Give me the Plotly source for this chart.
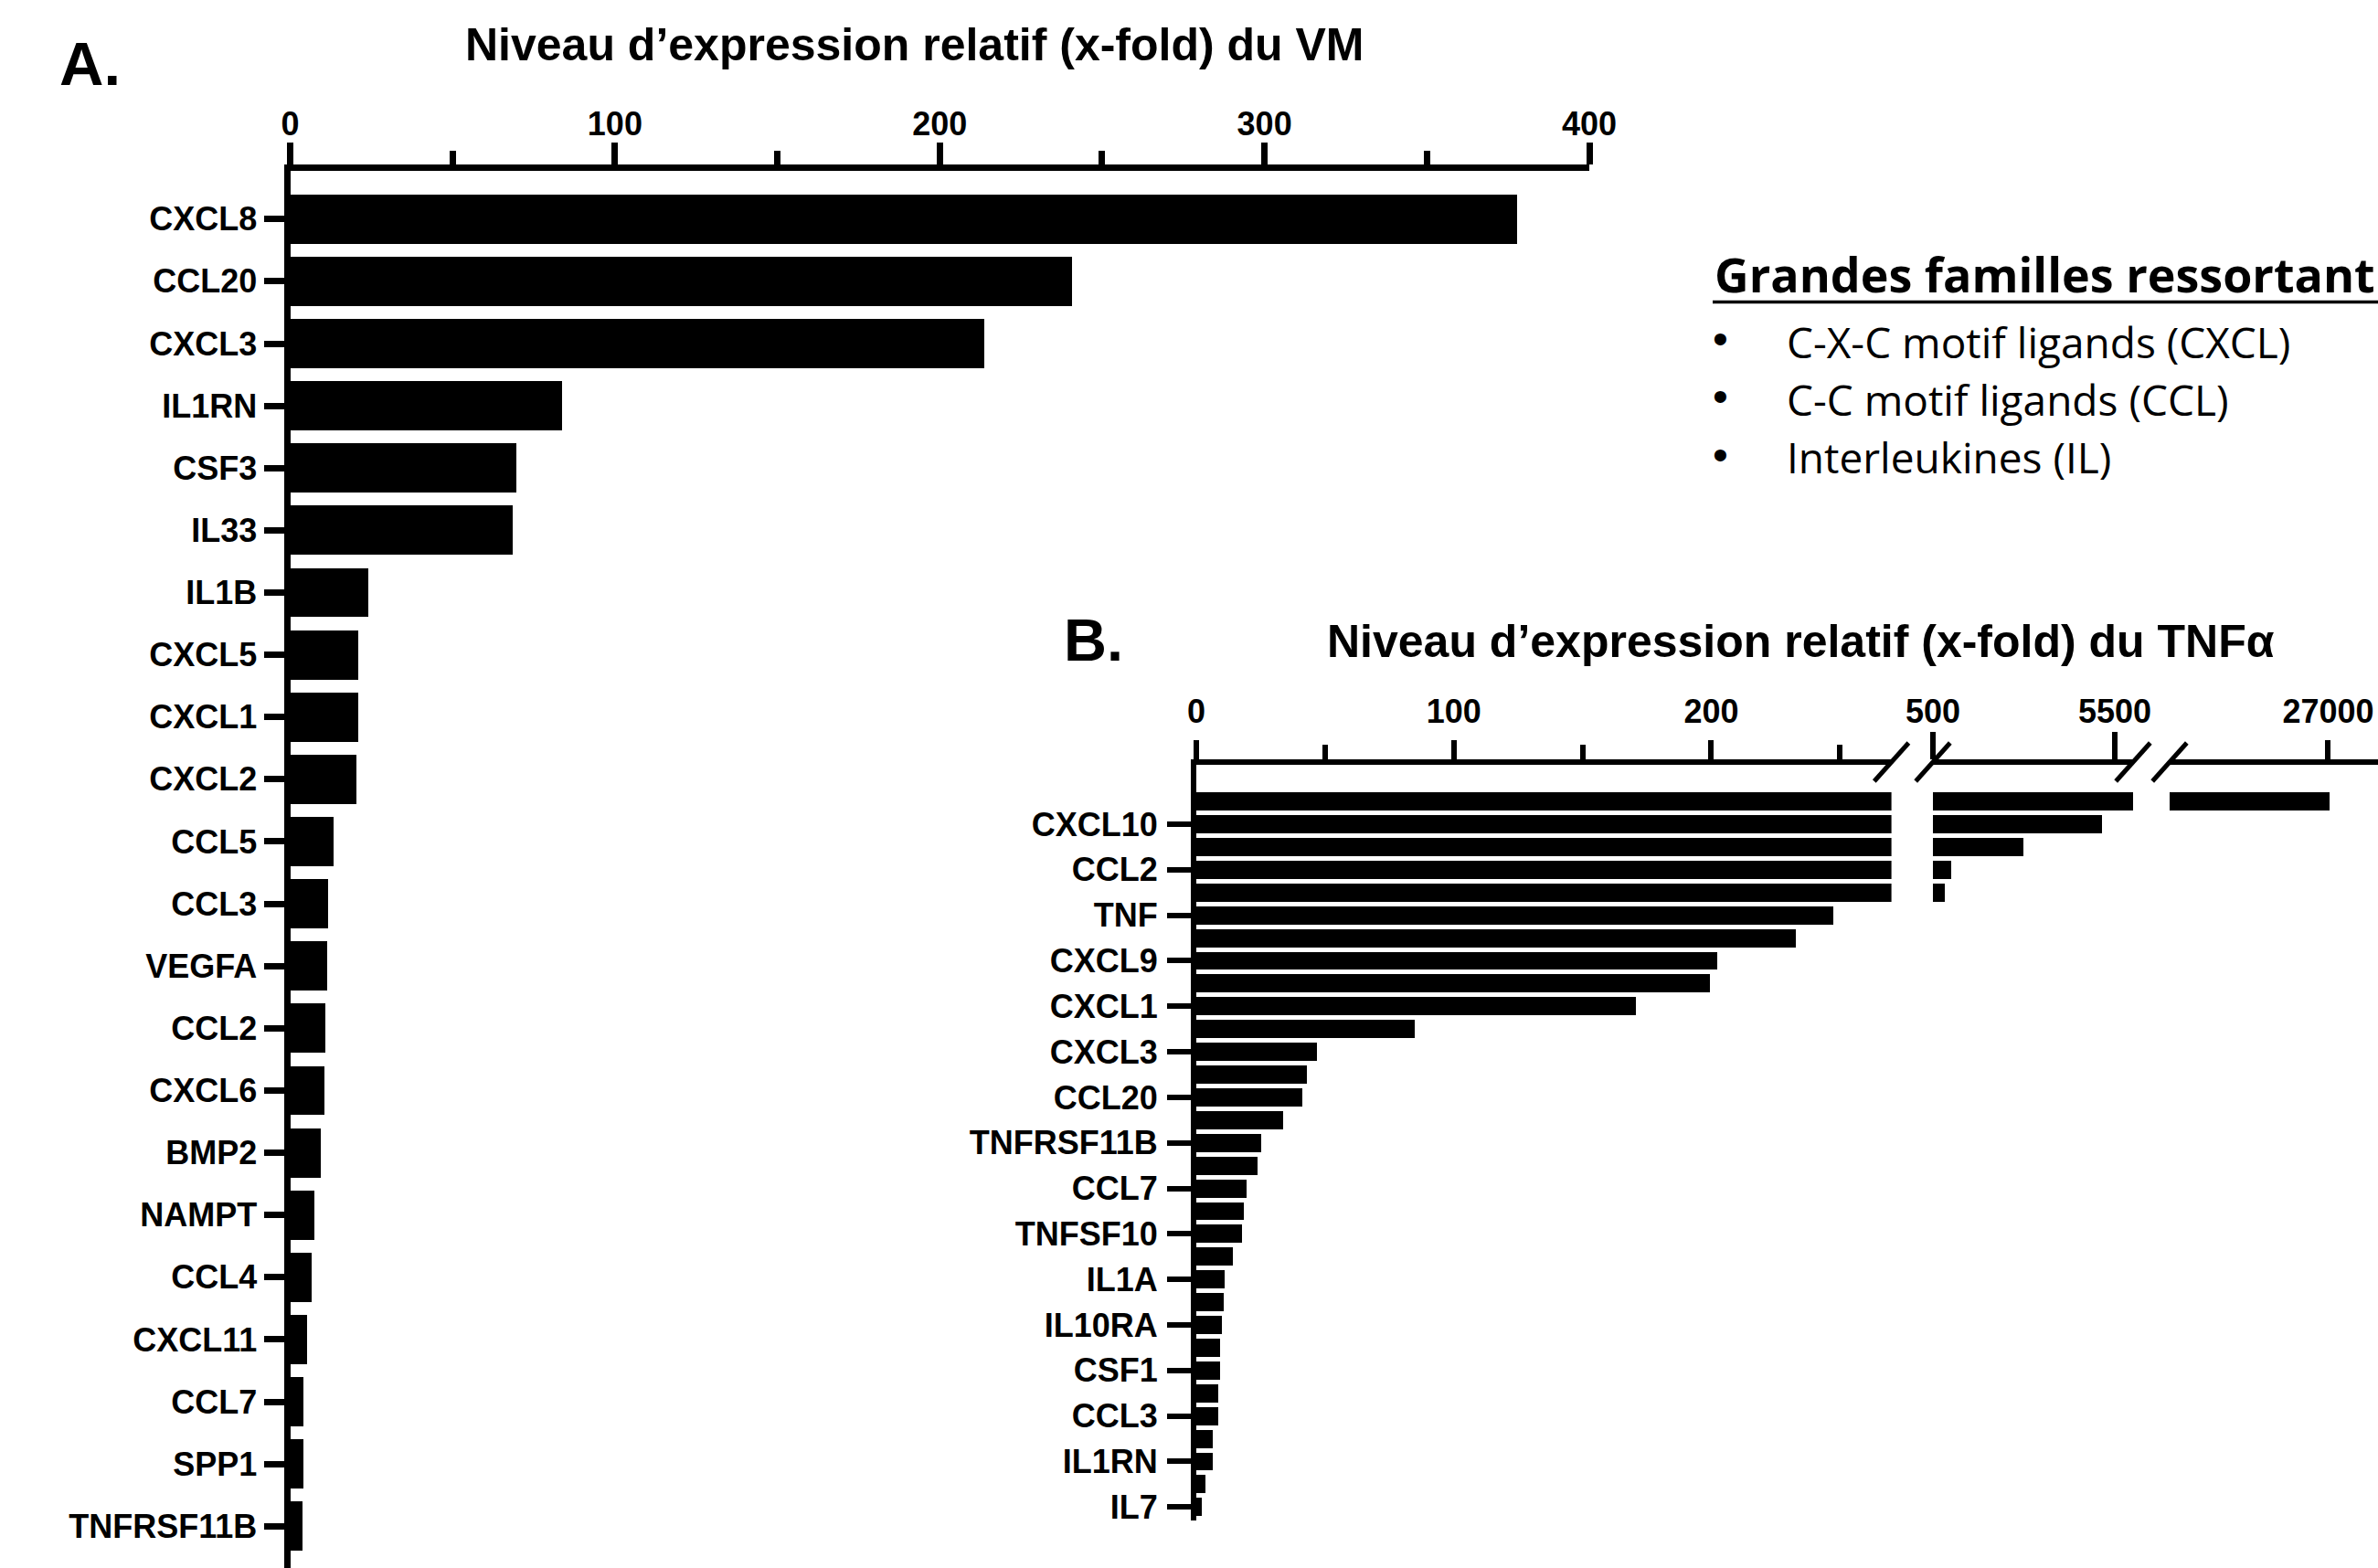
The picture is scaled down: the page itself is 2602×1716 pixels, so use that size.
import plotly.graph_objects as go

W, H = 2602, 1716

# ---------------- data ----------------
A_genes = ["CXCL8", "CCL20", "CXCL3", "IL1RN", "CSF3", "IL33", "IL1B", "CXCL5",
           "CXCL1", "CXCL2", "CCL5", "CCL3", "VEGFA", "CCL2", "CXCL6", "BMP2",
           "NAMPT", "CCL4", "CXCL11", "CCL7", "SPP1", "TNFRSF11B"]
A_values = [377.8, 240.6, 213.8, 83.8, 69.6, 68.5, 24.0, 21.1,
            21.0, 20.5, 13.4, 11.8, 11.5, 10.8, 10.6, 9.3,
            7.5, 6.7, 5.1, 4.2, 4.2, 3.9]

B_values = [27050, 5150, 2980, 1000, 830, 247.4, 232.9, 202.4, 199.6, 170.6,
            84.8, 46.9, 42.8, 41.1, 33.6, 25.1, 23.8, 19.6, 18.3, 17.6,
            14.1, 10.9, 10.6, 10.0, 9.1, 9.1, 8.6, 8.5, 6.4, 6.4, 3.7, 2.1]
B_positions = list(range(len(B_values)))
B_label_positions = [1, 3, 5, 7, 9, 11, 13, 15, 17, 19, 21, 23, 25, 27, 29, 31]
B_labels = ["CXCL10", "CCL2", "TNF", "CXCL9", "CXCL1", "CXCL3", "CCL20",
            "TNFRSF11B", "CCL7", "TNFSF10", "IL1A", "IL10RA", "CSF1", "CCL3",
            "IL1RN", "IL7"]

A_ticks = [0, 100, 200, 300, 400]
B_seg1_ticks = [0, 100, 200]
B_seg2_ticks = [500, 5500]
B_seg3_ticks = [27000]
B_seg_ranges = [[0, 270], [500, 6000], [22640, 28370]]

title_A = "Niveau d’expression relatif (x-fold) du VM"
title_B = "Niveau d’expression relatif (x-fold) du TNFα"
legend_title = "Grandes familles ressortant"
legend_items = ["C-X-C motif ligands (CXCL)", "C-C motif ligands (CCL)", "Interleukines (IL)"]


def px(x):
    return x / W


def py(y):
    return 1 - y / H


ARIAL = "Liberation Sans, Arial, sans-serif"
tickfont = dict(family=ARIAL, size=36, color="black", weight="bold")

fig = go.Figure()

# ---------- Chart A ----------
fig.add_trace(go.Bar(x=A_values, y=A_genes, orientation="h", marker=dict(color="black", line=dict(width=0)),
                     width=0.79, xaxis="x", yaxis="y", showlegend=False))

# ---------- Chart B (broken axis: three segments) ----------
for xa in ["x2", "x3", "x4"]:
    fig.add_trace(go.Bar(x=B_values, y=B_positions, orientation="h",
                         marker=dict(color="black", line=dict(width=0)),
                         width=0.8, xaxis=xa, yaxis="y2", showlegend=False))

A_xdom = [px(317.5), px(1739)]
A_ydom = [0, py(187.3)]
B_ydom = [py(1664), py(837)]
seg_px = [(1309, 2069.6), (2115, 2334), (2374, W)]
B_xdoms = [[px(a), min(1.0, px(b))] for a, b in seg_px]

common_x = dict(showgrid=False, zeroline=False, showline=True, linecolor="black",
                ticks="outside", tickcolor="black", tickfont=tickfont, side="top",
                fixedrange=True, automargin=False)

fig.update_layout(
    template="none",
    width=W, height=H,
    margin=dict(l=0, r=0, t=0, b=0, autoexpand=False),
    paper_bgcolor="white", plot_bgcolor="white",
    bargap=0,
    xaxis=dict(common_x, domain=A_xdom, range=[0, 400], tickvals=A_ticks,
               ticktext=[str(v) for v in A_ticks],
               linewidth=7, tickwidth=7, ticklen=24, anchor="y", ticklabelstandoff=-6,
               minor=dict(dtick=50, tick0=0, ticks="outside", ticklen=15, tickwidth=7, tickcolor="black")),
    yaxis=dict(domain=A_ydom, range=[21.67, -0.77], showgrid=False, zeroline=False,
               showline=True, linecolor="black", linewidth=7, ticks="outside",
               tickcolor="black", tickwidth=7, ticklen=22, tickfont=tickfont, anchor="x",
               type="category", categoryorder="array", categoryarray=A_genes, automargin=False,
               fixedrange=True),
    xaxis2=dict(common_x, domain=B_xdoms[0], range=B_seg_ranges[0], tickvals=B_seg1_ticks,
                ticktext=[str(v) for v in B_seg1_ticks], ticklabelstandoff=5,
                linewidth=6, tickwidth=6, ticklen=21, anchor="y2",
                minor=dict(dtick=50, tick0=0, ticks="outside", ticklen=16, tickwidth=6, tickcolor="black")),
    xaxis3=dict(common_x, domain=B_xdoms[1], range=B_seg_ranges[1], tickvals=B_seg2_ticks,
                ticktext=[str(v) for v in B_seg2_ticks],
                linewidth=6, tickwidth=6, ticklen=30, anchor="y2", ticklabelstandoff=-4),
    xaxis4=dict(common_x, domain=B_xdoms[2], range=B_seg_ranges[2], tickvals=B_seg3_ticks,
                ticktext=[str(v) for v in B_seg3_ticks], ticklabelstandoff=5,
                linewidth=6, tickwidth=6, ticklen=21, anchor="y2"),
    yaxis2=dict(domain=B_ydom, range=[31.59, -1.61], showgrid=False, zeroline=False,
                showline=True, linecolor="black", linewidth=6, ticks="outside",
                tickcolor="black", tickwidth=6, ticklen=26, tickfont=tickfont, anchor="x2",
                tickvals=B_label_positions, ticktext=B_labels, ticklabelstandoff=3,
                automargin=False, fixedrange=True),
)

# ---------- break marks ----------
axis_y = 834
for xc in [seg_px[0][1], seg_px[1][0], seg_px[1][1], seg_px[2][0]]:
    fig.add_shape(type="line", xref="paper", yref="paper",
                  x0=px(xc - 18.8), y0=py(axis_y + 21), x1=px(xc + 18.8), y1=py(axis_y - 21),
                  line=dict(color="black", width=5))

# ---------- texts ----------
def ann(text, x, y, size, family=ARIAL, xanchor="left", weight="bold"):
    fig.add_annotation(text=text, x=px(x), y=py(y), xref="paper", yref="paper",
                       xanchor=xanchor, yanchor="middle", showarrow=False,
                       font=dict(family=family, size=size, color="black", weight=weight))

ann("A.", 63, 69, 67)
ann(title_A, 1001, 49, 50, xanchor="center")
ann("B.", 1162, 700, 65)
ann(title_B, 1970, 702, 50, xanchor="center")

SANS = "Open Sans, Lato, sans-serif"
ann(legend_title, 1874, 300, 52, family=SANS)
fig.add_shape(type="line", xref="paper", yref="paper", x0=px(1874), x1=1.0,
              y0=py(330.5), y1=py(330.5), line=dict(color="black", width=3.5))
for i, item in enumerate(legend_items):
    yc = 374 + 63 * i
    ann("•", 1882, yc - 3, 48, family=ARIAL, xanchor="center", weight="normal")
    ann(item, 1953, yc, 46, family=SANS, weight="normal")

fig.write_html("out.html",
               config={"displayModeBar": False, "staticPlot": True},
               post_script="document.body.style.margin='0';document.body.style.overflow='hidden';")
